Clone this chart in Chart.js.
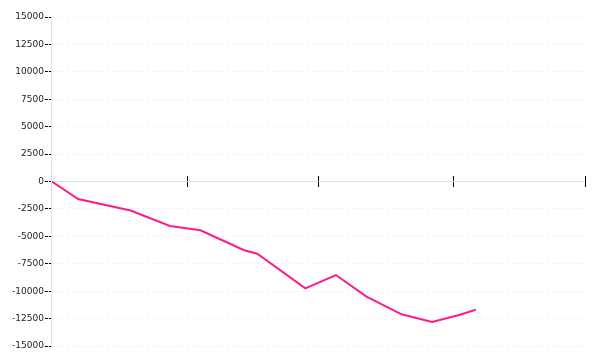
<!DOCTYPE html>
<html>
<head>
<meta charset="utf-8">
<script src="https://cdn.jsdelivr.net/npm/chart.js@4"></script>
<style>
  html, body { margin: 0; padding: 0; background: #fff; }
  #wrap { width: 600px; height: 360px; }
</style>
</head>
<body>
<div id="wrap"><canvas id="balanceChart"></canvas></div>
<script>
// running balance, x = day offset from the start of the period
const days = [0, 6, 18, 27, 34, 44, 47, 58, 65, 72, 77, 80, 87, 93, 97];
const balance = [0, -1600, -2650, -4050, -4450, -6270, -6580, -9740, -8530, -10500, -11500, -12110, -12810, -12200, -11690];
// month boundaries (days) used as x tick marks
const monthTicks = [0, 31, 61, 92, 122];

const points = days.map((d, i) => ({ x: d, y: balance[i] }));

new Chart(document.getElementById('balanceChart'), {
    type: 'line',
    data: {
        datasets: [{
            data: points,
            borderColor: '#ff1a8c',
            borderWidth: 2,
            pointRadius: 0,
            tension: 0,
            fill: false
        }]
    },
    options: {
        responsive: true,
        maintainAspectRatio: false,
        animation: false,
        layout: { padding: { top: 17, right: 15, bottom: 14, left: 11 } },
        plugins: { legend: { display: false }, tooltip: { enabled: false } },
        scales: {
            x: {
                type: 'linear',
                min: 0,
                max: 122,
                position: { y: 500 }, // sits a few px above zero so the marks straddle the zero line
                afterBuildTicks: axis => { axis.ticks = monthTicks.map(v => ({ value: v })); },
                ticks: { display: false },
                border: { display: false },
                grid: {
                    drawOnChartArea: false,
                    tickLength: 11,
                    tickColor: '#000',
                    tickWidth: 1
                }
            },
            y: {
                min: -15000,
                max: 15000,
                ticks: {
                    stepSize: 2500,
                    padding: 1,
                    color: '#222',
                    font: { family: 'DejaVu Sans', size: 9 },
                    callback: v => String(v)
                },
                border: {
                    color: '#dddddd',
                    dash: ctx => (ctx.tick && ctx.tick.value === 0) ? [] : [2, 3]
                },
                grid: {
                    color: ctx => (ctx.tick && ctx.tick.value === 0) ? '#dddddd' : '#eeeeee',
                    tickColor: '#000',
                    tickLength: 7,
                    tickBorderDash: [3, 1]
                }
            }
        }
    }
});
</script>
</body>
</html>
